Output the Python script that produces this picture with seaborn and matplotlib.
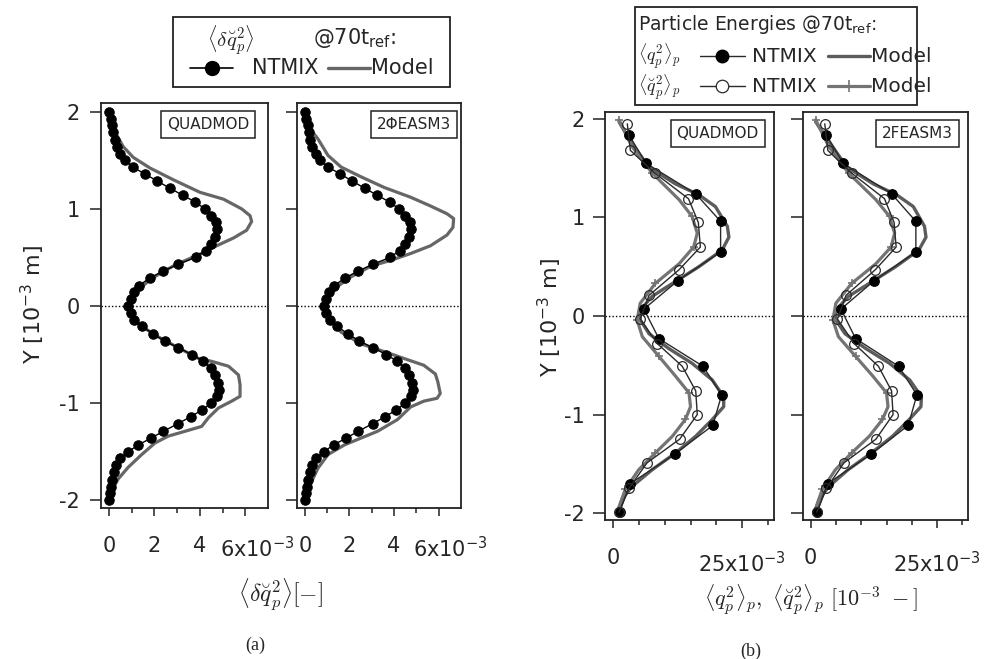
import matplotlib

matplotlib.use("Agg")
import matplotlib.pyplot as plt
import seaborn as sns
from matplotlib.lines import Line2D
from matplotlib.patches import Rectangle

# ------------------------------------------------------------------
# data, panel (a): <d q^2> in units of 1e-3, Y in units of 1e-3 m
# ------------------------------------------------------------------
y_ntmix_a = [2.00, 1.93, 1.86, 1.79, 1.71, 1.64, 1.57, 1.50, 1.43, 1.36,
             1.29, 1.21, 1.14, 1.07, 1.00, 0.93, 0.86, 0.79, 0.71, 0.64,
             0.57, 0.50, 0.43, 0.36, 0.29, 0.21, 0.14, 0.07, 0.00, -0.07,
             -0.14, -0.21, -0.29, -0.36, -0.43, -0.50, -0.57, -0.64, -0.71, -0.79,
             -0.86, -0.93, -1.00, -1.07, -1.14, -1.21, -1.29, -1.36, -1.43, -1.50,
             -1.57, -1.64, -1.71, -1.79, -1.86, -1.93, -2.00]
dq2_ntmix = [0.02, 0.07, 0.13, 0.18, 0.25, 0.34, 0.48, 0.70, 1.05, 1.58,
             2.10, 2.70, 3.25, 3.80, 4.22, 4.50, 4.70, 4.75, 4.68, 4.50,
             4.25, 3.82, 3.05, 2.40, 1.80, 1.33, 1.10, 0.95, 0.86, 0.95,
             1.12, 1.45, 1.95, 2.45, 3.05, 3.65, 4.15, 4.48, 4.68, 4.80,
             4.83, 4.75, 4.50, 4.10, 3.60, 3.05, 2.40, 1.85, 1.30, 0.85,
             0.50, 0.32, 0.22, 0.15, 0.10, 0.05, 0.02]

y_quadmod_a = [2.00, 1.85, 1.71, 1.64, 1.53, 1.42, 1.30, 1.17, 1.10, 1.00,
               0.93, 0.87, 0.78, 0.70, 0.62, 0.55, 0.49, 0.43, 0.35, 0.27,
               0.15, 0.03, -0.05, -0.16, -0.30, -0.43, -0.54, -0.57, -0.62, -0.71,
               -0.81, -0.93, -0.98, -1.05, -1.15, -1.24, -1.29, -1.34, -1.41, -1.53,
               -1.66, -1.78, -1.90, -1.99]
dq2_quadmod = [0.02, 0.12, 0.46, 0.63, 1.07, 1.81, 2.83, 4.01, 5.04, 5.84,
               6.21, 6.28, 6.06, 5.48, 4.74, 4.16, 3.57, 2.98, 2.35, 1.81,
               1.20, 0.93, 0.90, 1.15, 2.03, 3.05, 3.94, 4.52, 5.26, 5.70,
               5.77, 5.77, 5.40, 4.82, 4.38, 4.08, 3.35, 2.61, 2.03, 1.44,
               0.85, 0.41, 0.12, 0.04]

y_easm_a = [2.00, 1.85, 1.72, 1.55, 1.43, 1.33, 1.22, 1.12, 1.03, 0.95,
            0.90, 0.81, 0.73, 0.62, 0.54, 0.47, 0.41, 0.30, 0.18, 0.04,
            -0.10, -0.27, -0.39, -0.47, -0.54, -0.61, -0.70, -0.78, -0.90, -0.95,
            -0.98, -1.04, -1.17, -1.29, -1.36, -1.43, -1.53, -1.67, -1.81, -1.96]
dq2_easm = [0.02, 0.15, 0.59, 1.04, 1.63, 2.52, 3.56, 4.74, 5.63, 6.37,
            6.67, 6.64, 6.37, 5.63, 4.74, 3.85, 2.96, 2.07, 1.33, 0.89,
            0.96, 1.63, 2.52, 3.56, 4.44, 5.33, 5.85, 5.96, 6.07, 5.93,
            5.33, 4.74, 4.15, 3.26, 2.52, 1.78, 1.04, 0.59, 0.30, 0.07]

# ------------------------------------------------------------------
# data, panel (b): particle energies in units of 1e-3
# ------------------------------------------------------------------
y_q2_ntmix = [1.84, 1.55, 1.24, 0.96, 0.65, 0.36, 0.07, -0.23, -0.51, -0.80,
              -1.11, -1.40, -1.70, -1.99]
q2_ntmix = [3.1, 6.4, 16.0, 20.8, 20.8, 12.6, 6.0, 8.9, 17.4, 21.0,
            19.3, 12.0, 3.4, 1.3]
y_bq2_ntmix = [1.95, 1.68, 1.45, 1.19, 0.95, 0.70, 0.47, 0.21, -0.03, -0.28,
               -0.51, -0.76, -1.00, -1.25, -1.49, -1.75, -1.99]
bq2_ntmix = [2.8, 3.4, 8.1, 14.6, 16.5, 16.9, 12.8, 7.0, 5.3, 8.6,
             13.4, 16.0, 16.3, 12.9, 6.6, 3.1, 1.2]

y_q2_model = [1.97, 1.75, 1.51, 1.34, 1.23, 1.11, 0.91, 0.80, 0.67, 0.50,
              0.35, 0.20, 0.06, -0.04, -0.18, -0.33, -0.48, -0.65, -0.82, -0.92,
              -1.05, -1.22, -1.39, -1.56, -1.73, -1.86, -2.00]
q2_quadmod = [1.2, 3.7, 7.0, 12.1, 16.6, 19.8, 22.1, 22.4, 21.1, 16.6,
              12.1, 7.6, 5.3, 5.3, 7.0, 10.8, 15.3, 19.2, 21.4, 21.4,
              19.2, 16.0, 12.1, 7.6, 3.7, 1.8, 0.8]
q2_feasm = [1.0, 3.9, 7.2, 12.4, 17.0, 20.3, 22.5, 22.8, 21.4, 16.8,
            12.2, 7.5, 5.0, 5.0, 6.8, 10.9, 15.6, 19.6, 21.9, 21.8,
            19.5, 16.2, 12.0, 7.4, 3.6, 1.7, 0.7]

y_bq2_model = [1.99, 1.72, 1.45, 1.18, 1.01, 0.84, 0.70, 0.53, 0.33, 0.13,
               -0.04, -0.21, -0.41, -0.61, -0.78, -0.92, -1.05, -1.22, -1.39, -1.56,
               -1.76, -2.00]
bq2_quadmod = [1.2, 3.7, 7.6, 12.8, 15.3, 16.3, 15.6, 12.8, 8.2, 5.3,
               4.7, 5.7, 8.9, 12.1, 14.7, 15.0, 14.0, 11.5, 8.2, 5.0,
               2.4, 0.8]
bq2_feasm = [1.0, 3.6, 7.5, 12.9, 15.6, 16.6, 15.9, 12.9, 8.1, 5.0,
             4.4, 5.5, 8.9, 12.3, 15.0, 15.3, 14.2, 11.6, 8.1, 4.9,
             2.3, 0.7]

names_a = ["QUADMOD", "2\u03a6EASM3"]
names_b = ["QUADMOD", "2FEASM3"]
y_ticks = [-2, -1, 0, 1, 2]
y_ticklabels = ["-2", "-1", "0", "1", "2"]

# ------------------------------------------------------------------
sns.set_theme(style="white")
plt.rcParams["font.family"] = ["DejaVu Sans"]
plt.rcParams["mathtext.fontset"] = "dejavusans"
plt.rcParams["axes.unicode_minus"] = False

W, H = 988, 659
fig = plt.figure(figsize=(W / 100, H / 100), dpi=100)

FRAME = "#222222"
MODEL = "#666666"
MODEL_B = "#5c5c5c"
MODEL2 = "#747474"
LINE = "#2a2a2a"


def fx(x):
    return x / W


def fy(y):
    return 1 - y / H


def px_axes(x0, y0, x1, y1):
    return fig.add_axes([fx(x0), fy(y1), (x1 - x0) / W, (y1 - y0) / H])


def style_axes(ax, xlim, ylim, xmajor, xminor, xlabels, show_ylabels, ypad, ylen):
    ax.set_xlim(*xlim)
    ax.set_ylim(*ylim)
    ax.grid(False)
    ax.set_xlabel("")
    ax.set_ylabel("")
    for s in ax.spines.values():
        s.set_visible(True)
        s.set_color(FRAME)
        s.set_linewidth(1.3)
    ax.set_yticks(y_ticks)
    ax.set_yticklabels(y_ticklabels)
    ax.set_xticks(xmajor)
    ax.set_xticklabels(xlabels)
    ax.set_xticks(xminor, minor=True)
    ax.tick_params(axis="y", which="major", direction="out", left=True,
                   length=ylen, width=1.1, pad=ypad, labelsize=15,
                   labelleft=show_ylabels, color=FRAME)
    ax.tick_params(axis="x", which="major", direction="out", bottom=True,
                   length=5.8, width=1.1, pad=14.4, labelsize=15, color=FRAME)
    ax.tick_params(axis="x", which="minor", direction="out", bottom=True,
                   length=3.6, width=1.1, color=FRAME)
    ax.axhline(0, color="black", lw=1.0, ls=(0, (1, 1.5)), zorder=1)


def name_box(ax, text, dx):
    ax.annotate(text, xy=(1, 1), xycoords="axes fraction",
                xytext=(-dx, -10), textcoords="offset points",
                ha="right", va="top", fontsize=11,
                bbox=dict(boxstyle="square,pad=0.38", fc="white", ec=FRAME, lw=1.1))


# ------------------------------------------------------------------
# panel (a)
# ------------------------------------------------------------------
ax_a = [px_axes(101, 103, 268, 508), px_axes(297, 103, 461, 508)]
models_a = [(y_quadmod_a, dq2_quadmod), (y_easm_a, dq2_easm)]
for i, ax in enumerate(ax_a):
    ym, xm = models_a[i]
    sns.lineplot(x=xm, y=ym, sort=False, estimator=None, color=MODEL, lw=2.3, ax=ax)
    sns.lineplot(x=dq2_ntmix, y=y_ntmix_a, sort=False, estimator=None, color="black",
                 lw=1.0, marker="o", markersize=6.8, markeredgecolor="black",
                 markerfacecolor="black", ax=ax)
    style_axes(ax, (-0.35, 7.0), (-2.08, 2.09), [0, 2, 4, 6], [1, 3, 5],
               ["0", "2", "4", ""], i == 0, 7.2, 8.0)
    ax.annotate("6x10$^{-3}$", xy=(6, 0), xycoords=("data", "axes fraction"),
                xytext=(8.5, -29.5), textcoords="offset points",
                ha="center", va="center", fontsize=15)
    name_box(ax, names_a[i], [13.5, 7.0][i])

# ------------------------------------------------------------------
# panel (b)
# ------------------------------------------------------------------
ax_b = [px_axes(605, 112, 774, 520), px_axes(803, 112, 968, 520)]
models_b = [(q2_quadmod, bq2_quadmod), (q2_feasm, bq2_feasm)]
for i, ax in enumerate(ax_b):
    q2m, bq2m = models_b[i]
    sns.lineplot(x=q2m, y=y_q2_model, sort=False, estimator=None, color=MODEL_B,
                 lw=2.4, ax=ax)
    sns.lineplot(x=bq2m, y=y_bq2_model, sort=False, estimator=None, color=MODEL2,
                 lw=2.3, marker="+", markersize=6, markeredgewidth=1.2,
                 markeredgecolor=MODEL2, markevery=2, ax=ax)
    sns.lineplot(x=q2_ntmix, y=y_q2_ntmix, sort=False, estimator=None, color=LINE,
                 lw=1.0, marker="o", markersize=7, markeredgecolor="black",
                 markerfacecolor="black", ax=ax)
    sns.lineplot(x=bq2_ntmix, y=y_bq2_ntmix, sort=False, estimator=None, color=LINE,
                 lw=1.0, marker="o", markersize=7, markeredgecolor=LINE,
                 markerfacecolor="none", markeredgewidth=0.9, ax=ax)
    style_axes(ax, (-1.5, 31.1), (-2.07, 2.07), [0, 25], [5, 10, 15, 20, 30],
               ["0", ""], i == 0, 5.8, 8.6)
    ax.annotate("25x10$^{-3}$", xy=(25, 0), xycoords=("data", "axes fraction"),
                xytext=(0, -31.7), textcoords="offset points",
                ha="center", va="center", fontsize=15)
    name_box(ax, names_b[i], [11.0, 11.0][i])

# ------------------------------------------------------------------
# legends (drawn as boxes in figure pixels)
# ------------------------------------------------------------------
def box(x0, y0, x1, y1):
    fig.add_artist(Rectangle((fx(x0), fy(y1)), (x1 - x0) / W, (y1 - y0) / H,
                             transform=fig.transFigure, fill=False, ec=FRAME, lw=1.3))


def key(x0, x1, y, **kw):
    fig.add_artist(Line2D([fx(x0), fx(x1)], [fy(y), fy(y)], transform=fig.transFigure, **kw))


def key_marker(x, y, **kw):
    fig.add_artist(Line2D([fx(x)], [fy(y)], transform=fig.transFigure, ls="none", **kw))


box(173, 17, 450, 87)
fig.text(fx(207), fy(40), r"$\langle\delta\breve{q}_p^2\rangle$", ha="left", va="center",
         fontsize=15, math_fontfamily="cm")
fig.text(fx(313), fy(38), r"@70t$_{\mathrm{ref}}$:", ha="left", va="center", fontsize=15)
key(190, 233, 68, color="black", lw=1.2)
key_marker(212, 68, marker="o", markersize=10, color="black")
fig.text(fx(252), fy(68), "NTMIX", ha="left", va="center", fontsize=15)
key(328, 370, 68, color=MODEL, lw=2.4)
fig.text(fx(371), fy(68), "Model", ha="left", va="center", fontsize=15)

box(635, 7, 917, 105)
fig.text(fx(638), fy(24), r"Particle Energies @70t$_{\mathrm{ref}}$:", ha="left",
         va="center", fontsize=13.5)
fig.text(fx(638), fy(56), r"$\langle q_p^2\rangle_p$", ha="left", va="center",
         fontsize=13, math_fontfamily="cm")
fig.text(fx(638), fy(87), r"$\langle\breve{q}_p^2\rangle_p$", ha="left", va="center",
         fontsize=13, math_fontfamily="cm")
key(700, 745, 56, color=LINE, lw=1.0)
key_marker(722, 56, marker="o", markersize=9, color="black")
key(700, 745, 86, color=LINE, lw=1.0)
key_marker(722, 86, marker="o", markersize=9, mfc="white", mec=LINE, mew=0.9)
fig.text(fx(752), fy(56), "NTMIX", ha="left", va="center", fontsize=14.5)
fig.text(fx(752), fy(86), "NTMIX", ha="left", va="center", fontsize=14.5)
key(828, 870, 56, color=MODEL_B, lw=2.4)
key(828, 870, 86, color=MODEL2, lw=2.3)
key_marker(849, 86, marker="+", markersize=8, mec=MODEL2, mew=1.2)
fig.text(fx(871), fy(56), "Model", ha="left", va="center", fontsize=14.5)
fig.text(fx(871), fy(86), "Model", ha="left", va="center", fontsize=14.5)

# ------------------------------------------------------------------
# axis titles and panel letters
# ------------------------------------------------------------------
fig.text(fx(33), fy(305), "Y [10$^{-3}$ m]", rotation=90, ha="center", va="center",
         fontsize=16)
fig.text(fx(550), fy(318), "Y [10$^{-3}$ m]", rotation=90, ha="center", va="center",
         fontsize=16)
fig.text(fx(280), fy(595), r"$\langle\delta\breve{q}_p^2\rangle[-]$", ha="center",
         va="center", fontsize=17, math_fontfamily="cm")
fig.text(fx(811), fy(600), r"$\langle q_p^2\rangle_p,\ \langle\breve{q}_p^2\rangle_p\ [10^{-3}\ -]$",
         ha="center", va="center", fontsize=16, math_fontfamily="cm")
fig.text(fx(255), fy(645), "(a)", ha="center", va="center", fontsize=13,
         family=["Liberation Serif"])
fig.text(fx(751), fy(651), "(b)", ha="center", va="center", fontsize=13,
         family=["Liberation Serif"])

fig.savefig("out.png", dpi=100)
